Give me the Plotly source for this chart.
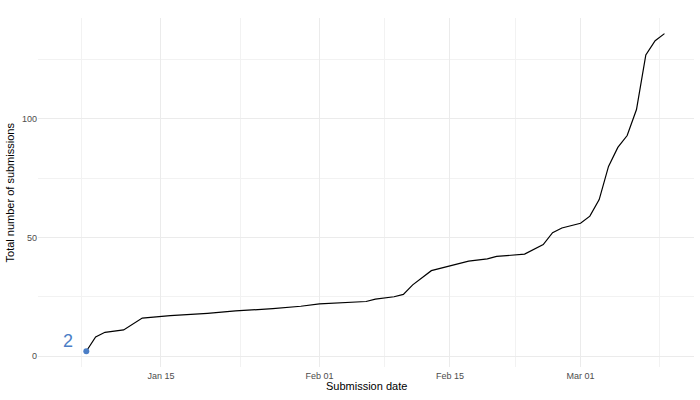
import plotly.graph_objects as go

# ---- data ----
dates = ["2021-01-07", "2021-01-08", "2021-01-09", "2021-01-11", "2021-01-13",
         "2021-01-16", "2021-01-20", "2021-01-23", "2021-01-27", "2021-01-30",
         "2021-02-01", "2021-02-06", "2021-02-07", "2021-02-09", "2021-02-10",
         "2021-02-11", "2021-02-13", "2021-02-15", "2021-02-17", "2021-02-19",
         "2021-02-20", "2021-02-23", "2021-02-25", "2021-02-26", "2021-02-27",
         "2021-03-01", "2021-03-02", "2021-03-03", "2021-03-04", "2021-03-05",
         "2021-03-06", "2021-03-07", "2021-03-08", "2021-03-09", "2021-03-10"]
totals = [2, 8, 10, 11, 16,
          17, 18, 19, 20, 21,
          22, 23, 24, 25, 26,
          30, 36, 38, 40, 41,
          42, 43, 47, 52, 54,
          56, 59, 66, 80, 88,
          93, 104, 127, 133, 136]

x_major = ["2021-01-15", "2021-02-01", "2021-02-15", "2021-03-01"]
x_major_text = ["Jan 15", "Feb 01", "Feb 15", "Mar 01"]
x_minor = ["2021-01-06 12:00", "2021-01-23 12:00", "2021-02-08", "2021-02-22", "2021-03-09 12:00"]
y_major = [0, 50, 100]
y_minor = [25, 75, 125]

x_title = "Submission date"
y_title = "Total number of submissions"

label_text = str(totals[0])
label_x = "2021-01-05"
label_y = 6.5

accent = "#4B7EC6"
grid = "#EBEBEB"
font_family = "Liberation Sans, Arial, sans-serif"

fig = go.Figure()
fig.add_trace(go.Scatter(x=dates, y=totals, mode="lines",
                         line=dict(color="black", width=1.2),
                         hoverinfo="skip", showlegend=False))
fig.add_trace(go.Scatter(x=[dates[0]], y=[totals[0]], mode="markers",
                         marker=dict(color=accent, size=6),
                         hoverinfo="skip", showlegend=False))
fig.add_annotation(x=label_x, y=label_y, text=label_text, showarrow=False,
                   font=dict(color=accent, size=18, family=font_family),
                   xanchor="center", yanchor="middle")
fig.add_annotation(xref="paper", yref="paper", x=0.5, y=-0.0544, text=x_title,
                   showarrow=False, xanchor="center", yanchor="middle",
                   font=dict(size=11, color="black", family=font_family))
fig.add_annotation(xref="paper", yref="paper", x=-0.0427, y=0.5, text=y_title,
                   showarrow=False, xanchor="center", yanchor="middle", textangle=-90,
                   font=dict(size=11, color="black", family=font_family))

fig.update_layout(
    width=700, height=400,
    margin=dict(l=38, r=6, t=18, b=33, autoexpand=False),
    plot_bgcolor="white", paper_bgcolor="white",
    font=dict(family=font_family, color="#4D4D4D"),
    hovermode=False,
    xaxis=dict(
        range=["2021-01-01 19:40", "2021-03-13 04:00"],
        tickmode="array", tickvals=x_major, ticktext=x_major_text,
        showgrid=True, gridcolor=grid, gridwidth=1.1,
        minor=dict(tickmode="array", tickvals=x_minor, showgrid=True,
                   gridcolor="#F2F2F2", gridwidth=0.6),
        zeroline=False, showline=False, ticks="", automargin=False,
        ticklabelstandoff=2,
        tickfont=dict(size=9, color="#4D4D4D"),
    ),
    yaxis=dict(
        range=[-4.64, 142.6],
        tickmode="array", tickvals=y_major,
        showgrid=True, gridcolor=grid, gridwidth=1.1,
        minor=dict(tickmode="array", tickvals=y_minor, showgrid=True,
                   gridcolor="#F2F2F2", gridwidth=0.6),
        zeroline=False, showline=False, ticks="", automargin=False,
        tickfont=dict(size=9, color="#4D4D4D"),
    ),
)

fig.write_html("out.html", config={"displayModeBar": False},
               post_script="document.body.style.margin='0';document.body.style.overflow='hidden';")
